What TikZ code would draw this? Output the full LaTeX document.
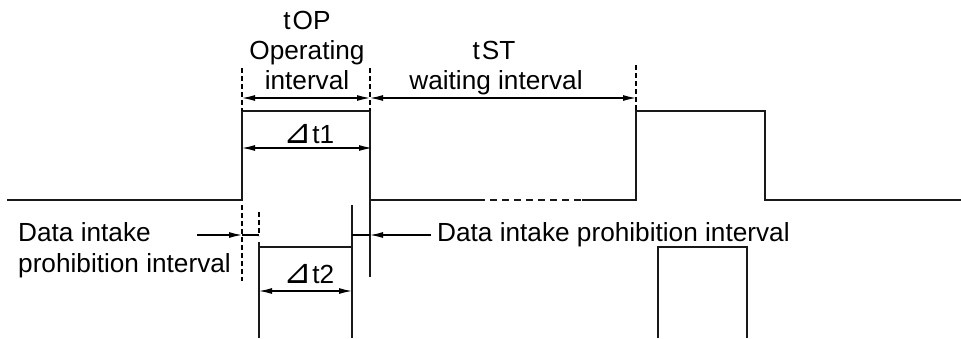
\documentclass[tikz,border=0pt]{standalone}
\usepackage{fontspec}
\setmainfont{Liberation Sans}
\newfontfamily\symfont{DejaVu Sans}
\usetikzlibrary{arrows.meta}
\newcommand{\rtri}{{\symfont\fontsize{34}{34}\selectfont ⊿}}
\begin{document}
\begin{tikzpicture}[x=1pt,y=-1pt,
  sig/.style={line width=1.4pt,black!90,line join=miter},
  dimline/.style={line width=1.2pt},
  dimarr/.style={dimline,{Latex[length=13pt,width=6pt]}-{Latex[length=13pt,width=6pt]}},
  oneway/.style={dimline,-{Latex[length=13pt,width=6pt]}},
  guide/.style={line width=1.2pt,dash pattern=on 5pt off 3pt},
  lbl/.style={inner sep=0pt,font=\fontsize{26.2}{30}\selectfont}]
\useasboundingbox (0,0) rectangle (961,338);
% key coordinates
\coordinate (aL) at (242,98);  \coordinate (aM) at (370,98);  \coordinate (aR) at (636,98);
\coordinate (d1L) at (242,148); \coordinate (d1R) at (372,148);
\coordinate (d2L) at (259,291); \coordinate (d2R) at (352,291);
\coordinate (lp0) at (197,235); \coordinate (lp1) at (242,235); \coordinate (lp2) at (259,235);
\coordinate (rp0) at (431,235); \coordinate (rp1) at (370,235); \coordinate (rp2) at (352,235);
% upper signal
\draw[sig] (7,200) -- (242,200) -- (242,111) -- (370,111) -- (370,277);
\draw[sig] (370,200) -- (478,200);
\draw[sig,dash pattern=on 7pt off 5pt] (478,200) -- (582,200);
\draw[sig] (582,200) -- (636,200) -- (636,111) -- (765,111) -- (765,200) -- (961,200);
% guides
\draw[guide] (242,68) -- (242,111);
\draw[guide] (370,68) -- (370,111);
\draw[guide] (636,65) -- (636,111);
\draw[guide] (242,205) -- (242,281);
\draw[guide] (259,212) -- (259,236);
% lower signal
\draw[sig] (259,242) -- (259,338);
\draw[sig] (259,247) -- (352,247);
\draw[sig] (352,205) -- (352,338);
\draw[sig] (658,338) -- (658,247) -- (747,247) -- (747,338);
% dimension arrows
\draw[dimarr] (aL) -- (aM);
\draw[dimarr] (aM) -- (aR);
\draw[dimarr] (d1L) -- (d1R);
\draw[dimarr] (d2L) -- (d2R);
\draw[oneway] (lp0) -- (lp1);
\draw[dimline] (lp1) -- (lp2);
\draw[oneway] (rp0) -- (rp1);
\draw[dimline] (rp2) -- (rp1);
% labels
\node[lbl,anchor=base] (top) at (307,29) {t\kern2pt OP};
\node[lbl,anchor=base] (op) at (307,59) {Operating};
\node[lbl,anchor=base] (opi) at (307,89) {interval};
\node[lbl,anchor=base] (tst) at (494,59) {t\kern2pt ST};
\node[lbl,anchor=base] (wi) at (496,89) {waiting interval};
\node[lbl,anchor=base] (dt1) at (309,143) {\rtri t1};
\node[lbl,anchor=base] (dt2) at (309,283) {\rtri t2};
\node[lbl,anchor=base west] (dl1) at (18,241) {Data intake};
\node[lbl,anchor=base west] (dl2) at (18,272) {prohibition interval};
\node[lbl,anchor=base west] (dr) at (437,241) {Data intake prohibition interval};
\end{tikzpicture}
\end{document}
